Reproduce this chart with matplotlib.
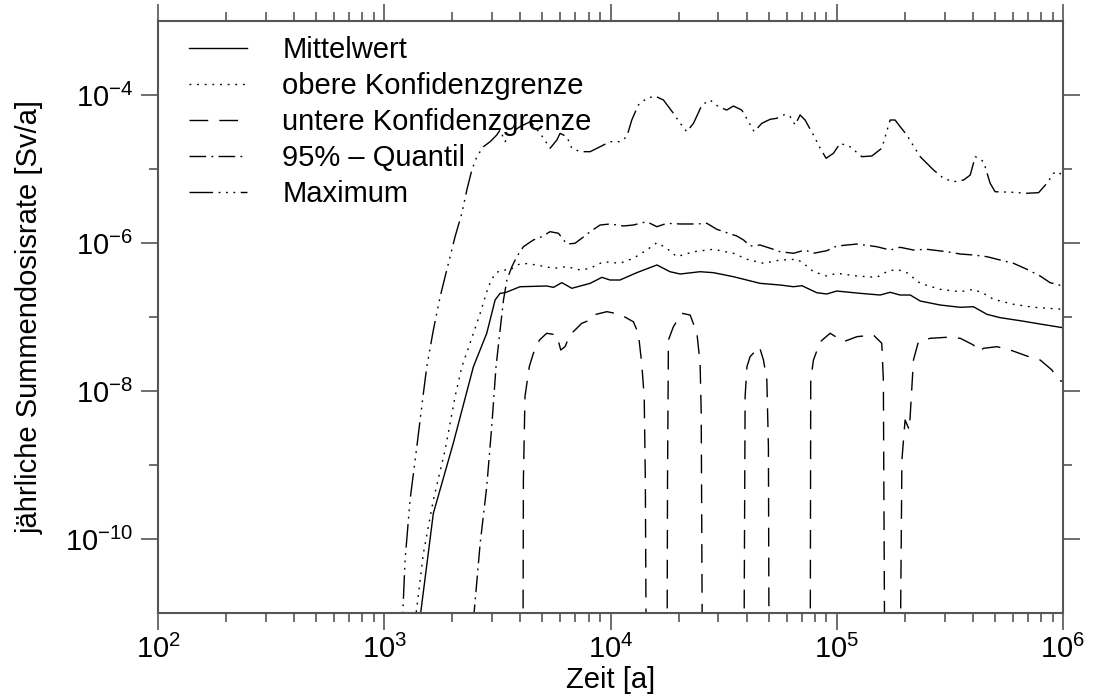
import numpy as np
import matplotlib
matplotlib.use("Agg")
import matplotlib.pyplot as plt
from matplotlib.ticker import FixedLocator, NullFormatter, LogFormatterSciNotation

plt.rcParams['font.family'] = ['Liberation Sans', 'DejaVu Sans']
plt.rcParams['mathtext.fontset'] = 'custom'
plt.rcParams['mathtext.rm'] = 'Liberation Sans'
plt.rcParams['mathtext.it'] = 'Liberation Sans:italic'
plt.rcParams['mathtext.bf'] = 'Liberation Sans:bold'
plt.rcParams['mathtext.default'] = 'regular'

# ---- data: log10(time [a]) and log10(dose rate [Sv/a]) ----
mittel_lt = [3.140, 3.161, 3.217, 3.305, 3.394, 3.453, 3.490, 3.512, 3.534, 3.600,
             3.718, 3.748, 3.785, 3.829, 3.910, 3.962, 3.998, 4.042, 4.116, 4.205,
             4.263, 4.308, 4.396, 4.455, 4.543, 4.661, 4.750, 4.809, 4.846, 4.912,
             4.956, 5.000, 5.103, 5.192, 5.236, 5.280, 5.325, 5.369, 5.457, 5.546,
             5.604, 5.664, 5.722, 5.811, 5.899, 6.000]
mittel_ld = [-11.5, -11.0, -9.653, -8.707, -7.672, -7.220, -6.770, -6.680, -6.672, -6.591,
             -6.581, -6.599, -6.536, -6.612, -6.545, -6.464, -6.500, -6.500, -6.401, -6.297,
             -6.388, -6.419, -6.388, -6.401, -6.455, -6.545, -6.568, -6.591, -6.577, -6.672,
             -6.689, -6.649, -6.680, -6.703, -6.666, -6.703, -6.703, -6.784, -6.838, -6.869,
             -6.861, -6.964, -7.009, -7.050, -7.095, -7.145]

obere_lt = [3.121, 3.141, 3.173, 3.217, 3.269, 3.313, 3.343, 3.379, 3.424, 3.460,
            3.490, 3.519, 3.556, 3.586, 3.615, 3.674, 3.748, 3.807, 3.866, 3.910,
            3.969, 4.042, 4.101, 4.160, 4.205, 4.249, 4.293, 4.367, 4.455, 4.543,
            4.603, 4.676, 4.750, 4.824, 4.853, 4.897, 4.956, 5.000, 5.089, 5.177,
            5.221, 5.265, 5.310, 5.369, 5.457, 5.546, 5.604, 5.648, 5.693, 5.781,
            5.870, 6.000]
obere_ld = [-11.5, -11.0, -10.193, -9.473, -8.797, -8.077, -7.672, -7.355, -6.950, -6.591,
            -6.409, -6.365, -6.365, -6.297, -6.274, -6.297, -6.342, -6.320, -6.365, -6.342,
            -6.253, -6.274, -6.207, -6.095, -5.996, -6.072, -6.185, -6.118, -6.085, -6.139,
            -6.220, -6.274, -6.230, -6.220, -6.274, -6.388, -6.446, -6.409, -6.446, -6.464,
            -6.388, -6.355, -6.401, -6.545, -6.626, -6.658, -6.626, -6.680, -6.761, -6.828,
            -6.869, -6.896]

# lower bound: drops out of the plotted range between the lobes
untere_lt = [3.612, 3.615, 3.622, 3.641, 3.659, 3.686, 3.718, 3.763, 3.780, 3.799,
             3.821, 3.873, 3.910, 3.924, 3.984, 4.042, 4.101, 4.123, 4.138, 4.149,
             4.154, 4.160,
             4.249, 4.252, 4.256, 4.278, 4.315, 4.352, 4.382, 4.396, 4.401, 4.408,
             4.588, 4.595, 4.603, 4.617, 4.658, 4.676, 4.691, 4.698, 4.702,
             4.882, 4.885, 4.897, 4.927, 4.971, 5.030, 5.089, 5.162, 5.199, 5.206, 5.214,
             5.277, 5.288, 5.302, 5.321, 5.339, 5.361, 5.413, 5.487, 5.546, 5.604,
             5.627, 5.649, 5.708, 5.767, 5.840, 5.899, 5.951, 5.980, 6.000]
untere_ld = [-13.0, -9.203, -8.077, -7.672, -7.491, -7.311, -7.220, -7.243, -7.446, -7.401,
             -7.243, -7.085, -7.041, -6.973, -6.928, -6.964, -7.064, -7.220, -7.626, -8.077,
             -9.203, -13.0,
             -13.0, -9.203, -7.311, -7.131, -6.950, -6.973, -7.220, -7.626, -8.297, -13.0,
             -13.0, -8.077, -7.672, -7.536, -7.401, -7.581, -7.851, -8.753, -13.0,
             -13.0, -7.851, -7.581, -7.334, -7.220, -7.334, -7.266, -7.243, -7.355, -7.851, -13.0,
             -13.0, -8.932, -8.392, -8.527, -7.581, -7.334, -7.288, -7.274, -7.288, -7.378,
             -7.469, -7.423, -7.401, -7.446, -7.527, -7.581, -7.716, -7.851, -7.874]

quantil_lt = [3.383, 3.397, 3.424, 3.453, 3.475, 3.494, 3.512, 3.527, 3.542, 3.564,
              3.586, 3.615, 3.659, 3.696, 3.733, 3.770, 3.807, 3.843, 3.873, 3.910,
              3.954, 3.998, 4.057, 4.101, 4.160, 4.205, 4.249, 4.308, 4.382, 4.426,
              4.470, 4.514, 4.558, 4.588, 4.617, 4.661, 4.720, 4.750, 4.809, 4.860,
              4.897, 4.956, 5.000, 5.089, 5.177, 5.236, 5.280, 5.339, 5.398, 5.487,
              5.546, 5.604, 5.664, 5.722, 5.781, 5.840, 5.899, 5.943, 6.000]
quantil_ld = [-11.5, -11.0, -10.058, -9.293, -8.482, -7.672, -7.176, -6.770, -6.500, -6.320,
              -6.185, -6.050, -5.959, -5.915, -5.847, -5.869, -6.014, -6.004, -5.936, -5.847,
              -5.757, -5.743, -5.770, -5.757, -5.712, -5.780, -5.734, -5.743, -5.743, -5.734,
              -5.815, -5.861, -5.905, -5.959, -6.041, -6.027, -6.085, -6.118, -6.139, -6.095,
              -6.139, -6.104, -6.041, -6.014, -6.050, -6.095, -6.058, -6.095, -6.085, -6.118,
              -6.149, -6.162, -6.185, -6.230, -6.274, -6.355, -6.446, -6.536, -6.581]

maximum_lt = [3.075, 3.082, 3.092, 3.114, 3.144, 3.173, 3.188, 3.217, 3.247, 3.269,
              3.291, 3.313, 3.343, 3.365, 3.387, 3.409, 3.438, 3.468, 3.497, 3.512,
              3.534, 3.556, 3.600, 3.645, 3.689, 3.733, 3.763, 3.777, 3.807, 3.829,
              3.866, 3.910, 3.954, 3.998, 4.042, 4.072, 4.094, 4.123, 4.160, 4.197,
              4.234, 4.278, 4.308, 4.337, 4.367, 4.404, 4.440, 4.477, 4.514, 4.543,
              4.580, 4.610, 4.635, 4.669, 4.706, 4.735, 4.772, 4.794, 4.816, 4.838,
              4.860, 4.897, 4.927, 4.953, 4.985, 5.015, 5.059, 5.111, 5.155, 5.199,
              5.214, 5.236, 5.258, 5.280, 5.310, 5.332, 5.369, 5.428, 5.472, 5.516,
              5.561, 5.590, 5.612, 5.627, 5.649, 5.678, 5.700, 5.781, 5.840, 5.892,
              5.929, 5.958, 5.980, 6.000]
maximum_ld = [-11.5, -11.0, -10.284, -9.473, -8.753, -8.031, -7.672, -7.176, -6.726, -6.455,
              -6.185, -5.915, -5.599, -5.284, -5.014, -4.834, -4.699, -4.631, -4.541, -4.473,
              -4.631, -4.518, -4.428, -4.361, -4.518, -4.720, -4.608, -4.518, -4.564, -4.720,
              -4.766, -4.766, -4.699, -4.631, -4.631, -4.564, -4.338, -4.135, -4.045, -4.014,
              -4.068, -4.247, -4.382, -4.496, -4.382, -4.135, -4.068, -4.158, -4.203, -4.149,
              -4.203, -4.361, -4.496, -4.382, -4.328, -4.315, -4.261, -4.293, -4.405, -4.270,
              -4.338, -4.541, -4.720, -4.855, -4.788, -4.653, -4.699, -4.834, -4.824, -4.720,
              -4.564, -4.338, -4.338, -4.428, -4.541, -4.653, -4.834, -5.014, -5.126, -5.172,
              -5.149, -5.081, -4.834, -4.855, -4.901, -5.193, -5.307, -5.315, -5.328, -5.320,
              -5.193, -5.058, -5.036, -5.104]

series = [
    ("Mittelwert", mittel_lt, mittel_ld, '-'),
    ("obere Konfidenzgrenze", obere_lt, obere_ld, (0, (1.3, 4.2))),
    ("untere Konfidenzgrenze", untere_lt, untere_ld, (0, (13.5, 8.0))),
    ("95% \u2013 Quantil", quantil_lt, quantil_ld, (0, (12.0, 3.8, 1.3, 3.8))),
    ("Maximum", maximum_lt, maximum_ld, (0, (17.0, 4.0, 1.3, 4.0, 1.3, 4.0, 1.3, 4.0))),
]

fig = plt.figure(figsize=(10.93, 6.97), dpi=100)
ax = fig.add_axes([158 / 1093, 1 - 613 / 697, 905 / 1093, 592 / 697])

for label, lt, ld, ls in series:
    t = 10.0 ** np.asarray(lt)
    d = 10.0 ** np.asarray(ld)
    ax.plot(t, d, color='black', lw=1.0, ls=ls, label=label)

ax.set_xscale('log')
ax.set_yscale('log')
ax.set_xlim(1e2, 1e6)
ax.set_ylim(1e-11, 1e-3)

axis_grey = '#555555'
for sp in ax.spines.values():
    sp.set_color(axis_grey)
    sp.set_linewidth(1.5)

ax.xaxis.set_major_locator(FixedLocator([1e2, 1e3, 1e4, 1e5, 1e6]))
ax.xaxis.set_minor_locator(FixedLocator([m * 10.0 ** e for e in range(2, 6) for m in range(2, 10)]))
ax.xaxis.set_major_formatter(LogFormatterSciNotation())
ax.xaxis.set_minor_formatter(NullFormatter())

ax.yaxis.set_major_locator(FixedLocator([1e-10, 1e-8, 1e-6, 1e-4]))
ax.yaxis.set_minor_locator(FixedLocator([1e-9, 1e-7, 1e-5]))
ax.yaxis.set_major_formatter(LogFormatterSciNotation())
ax.yaxis.set_minor_formatter(NullFormatter())

ax.tick_params(which='both', direction='out', color=axis_grey, width=1.2,
               top=True, right=True, labelsize=21, labelcolor='black')
ax.tick_params(which='major', length=12)
ax.tick_params(which='minor', length=6.5)
ax.tick_params(axis='y', which='major', pad=6)
ax.tick_params(axis='x', which='major', pad=4)

ax.set_xlabel('Zeit [a]', fontsize=21, labelpad=1)
ax.set_ylabel('jährliche Summendosisrate [Sv/a]', fontsize=21)
ax.yaxis.set_label_coords(-0.126, 0.5)

leg = ax.legend(loc='upper left', bbox_to_anchor=(31 / 905, 0.975), frameon=False,
                fontsize=21, handlelength=2.0, handletextpad=1.2,
                labelspacing=0.28, borderpad=0, borderaxespad=0)

fig.savefig('out.png', dpi=100)
